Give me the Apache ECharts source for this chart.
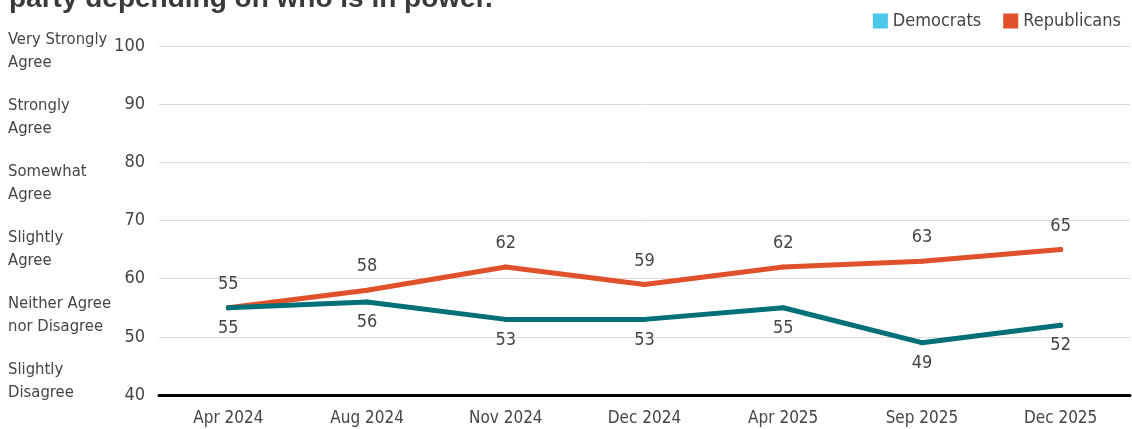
<!DOCTYPE html>
<html>
<head>
<meta charset="utf-8">
<script src="https://cdn.jsdelivr.net/npm/echarts@6/dist/echarts.min.js"></script>
<style>
  html, body { margin: 0; padding: 0; background: #fff; }
  #chart { width: 1132px; height: 429px; }
</style>
</head>
<body>
<div id="chart"></div>
<script>
const titleText = 'party depending on who is in power.'
const waves = ['Apr 2024', 'Aug 2024', 'Nov 2024', 'Dec 2024', 'Apr 2025', 'Sep 2025', 'Dec 2025']
const democrats = [55, 56, 53, 53, 55, 49, 52]
const republicans = [55, 58, 62, 59, 62, 63, 65]
const scaleLabels = [
  'Very Strongly\nAgree',
  'Strongly\nAgree',
  'Somewhat\nAgree',
  'Slightly\nAgree',
  'Neither Agree\nnor Disagree',
  'Slightly\nDisagree'
]

const font = '"Liberation Sans Narrow", "DejaVu Sans Condensed", Roboto, sans-serif'
const textColor = '#454545'

const chart = echarts.init(document.getElementById('chart'))
chart.setOption({
  backgroundColor: '#fff',
  animation: false,
  textStyle: { fontFamily: font },
  title: {
    text: titleText,
    left: 4,
    top: -20,
    textStyle: { fontFamily: 'Liberation Sans, Arial, sans-serif', fontSize: 28, fontWeight: 'bold', color: '#3a3a3a' }
  },
  legend: {
    right: 6,
    top: 7,
    icon: 'rect',
    itemWidth: 15,
    itemHeight: 15,
    itemGap: 22,
    textStyle: { fontFamily: font, fontSize: 18, color: textColor },
    data: [
      { name: 'Democrats', itemStyle: { color: '#4cc8ea' } },
      { name: 'Republicans', itemStyle: { color: '#e0502a' } }
    ]
  },
  grid: [
    { left: 159, right: 2, top: 46, bottom: 34 },
    { left: 100, width: 1, top: 18, bottom: 15, show: false }
  ],
  xAxis: [
    {
      type: 'category',
      gridIndex: 0,
      data: waves,
      boundaryGap: true,
      axisTick: { show: false },
      axisLine: { lineStyle: { color: '#000', width: 3 } },
      axisLabel: { fontFamily: font, fontSize: 17, color: textColor, margin: 15 }
    },
    { type: 'value', gridIndex: 1, show: false }
  ],
  yAxis: [
    {
      type: 'value',
      gridIndex: 0,
      min: 40,
      max: 100,
      interval: 10,
      axisLine: { show: false },
      axisTick: { show: false },
      axisLabel: { fontFamily: font, fontSize: 18, color: textColor, margin: 14 },
      splitLine: { lineStyle: { color: '#dcdcdc', width: 1 } }
    },
    {
      type: 'category',
      gridIndex: 1,
      inverse: true,
      data: scaleLabels,
      axisLine: { show: false },
      axisTick: { show: false },
      axisLabel: {
        fontFamily: font, fontSize: 16.5, color: textColor,
        align: 'left', margin: 92, lineHeight: 23
      }
    }
  ],
  series: [
    {
      name: 'Republicans',
      type: 'line',
      data: republicans,
      symbol: 'circle',
      symbolSize: 5,
      lineStyle: { color: '#e0502a', width: 5, cap: 'round', join: 'round' },
      itemStyle: { color: '#e0502a' },
      label: {
        show: true, position: 'top', distance: 12,
        fontFamily: font, fontSize: 18, color: textColor
      },
      z: 3
    },
    {
      name: 'Democrats',
      type: 'line',
      data: democrats,
      symbol: 'circle',
      symbolSize: 5,
      lineStyle: { color: '#007078', width: 5, cap: 'round', join: 'round' },
      itemStyle: { color: '#007078' },
      label: {
        show: true, position: 'bottom', distance: 9,
        fontFamily: font, fontSize: 18, color: textColor
      },
      z: 4
    }
  ]
})
</script>
</body>
</html>
